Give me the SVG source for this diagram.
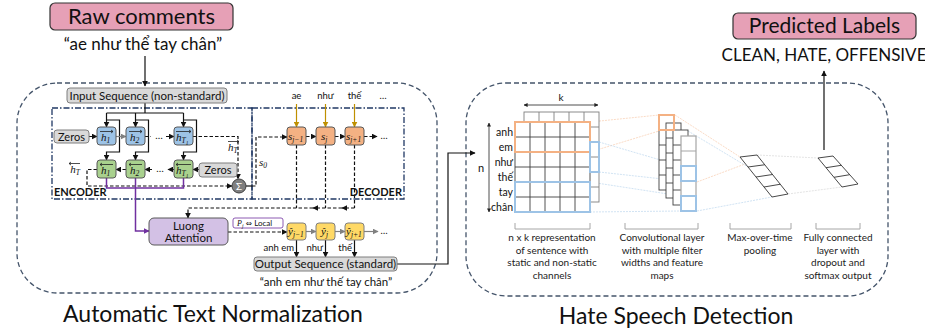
<svg xmlns="http://www.w3.org/2000/svg" width="925" height="330" viewBox="0 0 925 330">
<defs>
<style>
text{font-family:Lato,"Open Sans","Noto Sans",sans-serif;fill:#111}
.t{font-size:11px;text-anchor:middle}
.m{font-family:"Liberation Serif",serif;font-style:italic;font-size:11px}
.sb{font-size:7.5px}
.outer{fill:none;stroke:#44546a;stroke-width:1.3;stroke-dasharray:5 3}
.dd{fill:none;stroke:#203864;stroke-width:1.3;stroke-dasharray:6 2 1.5 2}
.gray{fill:#d9d9d9;stroke:#7f7f7f;stroke-width:1}
.blue{fill:#9dc3e6;stroke:#595959;stroke-width:1}
.green{fill:#a9d18e;stroke:#595959;stroke-width:1}
.orng{fill:#f4b183;stroke:#595959;stroke-width:1}
.yel{fill:#ffd966;stroke:#7f7f7f;stroke-width:1}
.pink{fill:#e6a0b6;stroke:#333;stroke-width:1.2}
.c{fill:none;stroke:#111;stroke-width:1.2}
.cd{fill:none;stroke:#111;stroke-width:1.2;stroke-dasharray:3.5 2}
.cg{fill:none;stroke:#808080;stroke-width:1.2}
.gold{fill:none;stroke:#bf9000;stroke-width:1.2}
.pur{fill:none;stroke:#7030a0;stroke-width:1.5}
.ov{fill:none;stroke:#222;stroke-width:0.8}
.grid{fill:#fff;stroke:#404040;stroke-width:0.9}
.gridb{fill:#fff;stroke:#7f7f7f;stroke-width:0.9}
.hl-o{fill:none;stroke:#f4b183;stroke-width:2}
.hl-b{fill:none;stroke:#9dc3e6;stroke-width:2}
.lo{fill:none;stroke:#f8cbad;stroke-width:0.7;stroke-dasharray:2 1}
.lb{fill:none;stroke:#bdd7ee;stroke-width:0.7;stroke-dasharray:2 1}
.lg{fill:none;stroke:#d9d9d9;stroke-width:0.7;stroke-dasharray:2 1}
.brk{fill:none;stroke:#a6a6a6;stroke-width:1}
.sm{font-size:10px;text-anchor:middle;fill:#222}
</style>
<marker id="ah" viewBox="0 0 10 10" refX="9" refY="5" markerWidth="6" markerHeight="6" markerUnits="userSpaceOnUse" orient="auto-start-reverse"><path d="M0,0 L10,5 L0,10 z" fill="#111"/></marker>
<marker id="ahg" viewBox="0 0 10 10" refX="9" refY="5" markerWidth="6" markerHeight="6" markerUnits="userSpaceOnUse" orient="auto"><path d="M0,0 L10,5 L0,10 z" fill="#808080"/></marker>
<marker id="ahgold" viewBox="0 0 10 10" refX="9" refY="5" markerWidth="6" markerHeight="6" markerUnits="userSpaceOnUse" orient="auto"><path d="M0,0 L10,5 L0,10 z" fill="#bf9000"/></marker>
<marker id="ahp" viewBox="0 0 10 10" refX="9" refY="5" markerWidth="6" markerHeight="6" markerUnits="userSpaceOnUse" orient="auto"><path d="M0,0 L10,5 L0,10 z" fill="#7030a0"/></marker>
<marker id="ahs" viewBox="0 0 10 10" refX="9" refY="5" markerWidth="4" markerHeight="4" markerUnits="userSpaceOnUse" orient="auto-start-reverse"><path d="M0,0 L10,5 L0,10 z" fill="#222"/></marker>
</defs>

<!-- outer panels -->
<rect class="outer" x="17" y="83" width="420" height="210" rx="40"/>
<rect class="outer" x="466" y="83" width="422" height="213" rx="40"/>
<rect class="dd" x="52" y="108" width="200" height="91"/>
<rect class="dd" x="252" y="108" width="152" height="91"/>
<text x="54" y="196" style="font-size:11px;font-weight:bold">ENCODER</text>
<text x="402" y="196" style="font-size:11px;font-weight:bold;text-anchor:end">DECODER</text>

<text x="213" y="322" style="font-size:23px;text-anchor:middle">Automatic Text Normalization</text>
<text x="676" y="324" style="font-size:23px;text-anchor:middle">Hate Speech Detection</text>

<g id="connectors">
<path class="c" d="M145,56 V86" marker-end="url(#ah)"/>
<!-- input to encoder -->
<path class="c" d="M145,103 V113 M106.5,113 H183.5"/>
<path class="c" d="M106.5,113 V127" marker-end="url(#ah)"/>
<path class="c" d="M135.5,113 V127" marker-end="url(#ah)"/>
<path class="c" d="M183.5,113 V127" marker-end="url(#ah)"/>
<path class="c" d="M106.5,120 H119.5 V152 H106.5 V160" marker-end="url(#ah)"/>
<path class="c" d="M135.5,120 H148.5 V152 H135.5 V160" marker-end="url(#ah)"/>
<path class="c" d="M183.5,120 H196.5 V152 H183.5 V160" marker-end="url(#ah)"/>
<!-- forward chain -->
<path class="cd" d="M89,136.5 H97" marker-end="url(#ah)"/>
<path class="cg" d="M116,136.5 H126" marker-end="url(#ahg)"/>
<path class="cd" d="M145,136.5 H151"/>
<path class="cd" d="M166,136.5 H174" marker-end="url(#ah)"/>
<path class="cd" d="M193,136.5 H238 V179" marker-end="url(#ah)"/>
<!-- backward chain -->
<path class="cd" d="M199,169.5 H193" marker-end="url(#ah)"/>
<path class="cd" d="M174,169.5 H168" marker-end="url(#ah)"/>
<path class="cd" d="M152,169.5 H145" marker-end="url(#ah)"/>
<path class="cd" d="M126,169.5 H116" marker-end="url(#ah)"/>
<path class="cd" d="M97,169.5 H87 V186 H232" marker-end="url(#ah)"/>
<!-- s0 -->
<path class="c" d="M246,186 H252"/>
<path class="cd" d="M252,186 H256 V137 H287" marker-end="url(#ah)"/>
<!-- decoder chain -->
<path class="cd" d="M306,136.5 H316" marker-end="url(#ah)"/>
<path class="cd" d="M335,136.5 H345" marker-end="url(#ah)"/>
<path class="cd" d="M364,136.5 H377" marker-end="url(#ah)"/>
<path class="gold" d="M296.5,104 V127" marker-end="url(#ahgold)"/>
<path class="gold" d="M325.5,104 V127" marker-end="url(#ahgold)"/>
<path class="gold" d="M354.5,104 V127" marker-end="url(#ahgold)"/>
<path class="cd" d="M296.5,145 V208 M325.5,145 V208 M354.5,145 V208"/>
<path class="cd" d="M354.5,208 H342" marker-end="url(#ah)"/>
<path class="cd" d="M342,208 H325.5 M325.5,208 H313" marker-end="url(#ah)"/>
<path class="cd" d="M313,208 H188 V218" marker-end="url(#ah)"/>
<!-- attention -->
<path class="pur" d="M106.5,178 V188 H183.5 V178"/>
<path class="pur" d="M135.5,178 V231 H149" marker-end="url(#ahp)"/>
<path class="cd" d="M228,232 H287" marker-end="url(#ah)"/>
<!-- outputs -->
<path class="cg" d="M306,231.5 H316" marker-end="url(#ahg)"/>
<path class="cg" d="M335,231.5 H345" marker-end="url(#ahg)"/>
<path class="cg" d="M364,231.5 H378" marker-end="url(#ahg)"/>
<path class="c" d="M296.5,240 V257" marker-end="url(#ah)"/>
<path class="c" d="M325.5,240 V257" marker-end="url(#ah)"/>
<path class="c" d="M354.5,240 V257" marker-end="url(#ah)"/>
<path class="c" d="M397,264 H448 V153 H475" marker-end="url(#ah)"/>
<!-- cnn flow -->
<path class="lo" d="M590,122 L659,115 M590,152 L659,131 M675,115 L740,157 M697,182 L745,164"/>
<path class="lb" d="M599,142 L681,166 M599,172 L681,181 M590,182 L681,196 M590,212 L681,211 M688,131 L748,167 M697,211 L772,197"/>
<path class="lg" d="M757,155 L818,158 M788,194 L842,187"/>
<path class="c" d="M824,150 V71" marker-end="url(#ah)"/>
</g>

<g id="raw-comments">
<rect class="pink" x="50" y="3" width="183" height="27" rx="5"/>
<text x="141.5" y="24" style="font-size:22px;text-anchor:middle">Raw comments</text>
<text x="143" y="50" style="font-size:17px;text-anchor:middle">“ae như thể tay chân”</text>
</g>

<g id="input-sequence">
<rect class="gray" x="67" y="88" width="160" height="15" rx="3"/>
<text class="t" x="147" y="99.5" style="font-size:11.5px">Input Sequence (non-standard)</text>
</g>

<g id="zeros-fwd"><rect class="gray" x="54" y="130" width="35" height="13" rx="3"/><text class="t" x="71.5" y="140.5">Zeros</text></g>
<g id="zeros-bwd"><rect class="gray" x="199" y="163" width="38" height="14" rx="3"/><text class="t" x="218" y="174">Zeros</text></g>

<g id="h-fwd-1"><rect class="blue" x="97" y="127" width="19" height="18" rx="3"/><text class="m" x="101" y="141">h<tspan class="sb" dy="2">1</tspan></text><path class="ov" d="M100,131.5 H113 M111,130 L113,131.5 L111,133"/></g>
<g id="h-fwd-2"><rect class="blue" x="126" y="127" width="19" height="18" rx="3"/><text class="m" x="130" y="141">h<tspan class="sb" dy="2">2</tspan></text><path class="ov" d="M129,131.5 H142 M140,130 L142,131.5 L140,133"/></g>
<g id="h-fwd-T"><rect class="blue" x="174" y="127" width="19" height="18" rx="3"/><text class="m" x="176" y="141">h<tspan class="sb" dy="2">T</tspan><tspan style="font-size:5.5px" dy="1.5">1</tspan></text><path class="ov" d="M176,131.5 H191 M189,130 L191,131.5 L189,133"/></g>
<text class="m" x="80" y="173" style="font-size:11px;text-anchor:end" >h<tspan class="sb" dy="2">T</tspan></text>
<path class="ov" d="M69,163.5 H80 M71,162 L69,163.5 L71,165"/>
<text class="m" x="228" y="151">h<tspan class="sb" dy="2">T</tspan></text>
<path class="ov" d="M228,141.5 H239 M237,140 L239,141.5 L237,143"/>
<text x="159" y="139" style="font-size:10px;text-anchor:middle">…</text>

<g id="h-bwd-1"><rect class="green" x="97" y="160" width="19" height="18" rx="3"/><text class="m" x="101" y="174">h<tspan class="sb" dy="2">1</tspan></text><path class="ov" d="M100,164.5 H113 M102,163 L100,164.5 L102,166"/></g>
<g id="h-bwd-2"><rect class="green" x="126" y="160" width="19" height="18" rx="3"/><text class="m" x="130" y="174">h<tspan class="sb" dy="2">2</tspan></text><path class="ov" d="M129,164.5 H142 M131,163 L129,164.5 L131,166"/></g>
<g id="h-bwd-T"><rect class="green" x="174" y="160" width="19" height="18" rx="3"/><text class="m" x="176" y="174">h<tspan class="sb" dy="2">T</tspan><tspan style="font-size:5.5px" dy="1.5">1</tspan></text><path class="ov" d="M176,164.5 H191 M178,163 L176,164.5 L178,166"/></g>
<text x="160" y="172" style="font-size:10px;text-anchor:middle">…</text>

<g id="sum"><circle cx="239" cy="186" r="7" fill="#7f7f7f" stroke="#404040"/><text x="239" y="189.5" style="font-size:10px;text-anchor:middle;fill:#fff">Σ</text></g>
<text class="m" x="259" y="166">s<tspan class="sb" dy="2">0</tspan></text>

<g id="s-prev"><rect class="orng" x="287" y="127" width="19" height="18" rx="3"/><text class="m" x="288" y="140">s<tspan class="sb" dy="2">j−1</tspan></text></g>
<g id="s-cur"><rect class="orng" x="316" y="127" width="19" height="18" rx="3"/><text class="m" x="321" y="140">s<tspan class="sb" dy="2">j</tspan></text></g>
<g id="s-next"><rect class="orng" x="345" y="127" width="19" height="18" rx="3"/><text class="m" x="346" y="140">s<tspan class="sb" dy="2">j+1</tspan></text></g>
<text x="296.5" y="99" style="font-size:9.5px;text-anchor:middle">ae</text>
<text x="325.5" y="99" style="font-size:9.5px;text-anchor:middle">như</text>
<text x="354.5" y="99" style="font-size:9.5px;text-anchor:middle">thế</text>
<text x="383" y="99" style="font-size:9.5px;text-anchor:middle">…</text>
<text x="384" y="139" style="font-size:9.5px;text-anchor:middle">…</text>

<g id="luong-attention">
<rect x="149" y="218" width="79" height="27" rx="5" fill="#d3c1e5" stroke="#595959"/>
<text class="t" x="188.5" y="229.5" style="font-size:11.5px">Luong</text>
<text class="t" x="188.5" y="242" style="font-size:11.5px">Attention</text>
</g>
<g id="pj-local">
<rect x="233" y="218" width="50" height="10" rx="2" fill="#fff" stroke="#7030a0" stroke-width="0.8"/>
<text x="237" y="226" style="font-size:8px"><tspan style="font-family:'Liberation Serif',serif;font-style:italic">P<tspan dy="1.5" style="font-size:5.5px">j</tspan></tspan><tspan dy="-1.5" style="font-family:'DejaVu Sans',sans-serif;font-size:7.5px"> ⇔</tspan><tspan> Local</tspan></text>
</g>

<g id="y-prev"><rect class="yel" x="287" y="223" width="19" height="17" rx="3"/><text class="m" x="288" y="235">ŷ<tspan class="sb" dy="2">j−1</tspan></text></g>
<g id="y-cur"><rect class="yel" x="316" y="223" width="19" height="17" rx="3"/><text class="m" x="321" y="235">ŷ<tspan class="sb" dy="2">j</tspan></text></g>
<g id="y-next"><rect class="yel" x="345" y="223" width="19" height="17" rx="3"/><text class="m" x="346" y="235">ŷ<tspan class="sb" dy="2">j+1</tspan></text></g>
<text x="384" y="234" style="font-size:9.5px;text-anchor:middle">…</text>
<text x="294" y="251" style="font-size:9.5px;text-anchor:end">anh em</text>
<text x="323" y="251" style="font-size:9.5px;text-anchor:end">như</text>
<text x="352" y="251" style="font-size:9.5px;text-anchor:end">thế</text>

<g id="output-sequence">
<rect class="gray" x="254" y="257" width="143" height="14" rx="3"/>
<text class="t" x="325.5" y="268" style="font-size:11.5px">Output Sequence (standard)</text>
<text class="t" x="326" y="286" style="font-size:11.5px">“anh em như thế tay chân”</text>
</g>

<g id="sentence-matrix">
<rect class="gridb" x="524" y="112" width="75" height="90"/>
<path class="gridb" d="M539,112 V122 M554,112 V122 M569,112 V122 M584,112 V122 M590,127 H599 M590,142 H599 M590,157 H599 M590,172 H599 M590,187 H599"/>
<rect class="grid" x="515" y="122" width="75" height="90"/>
<path class="grid" d="M530,122 V212 M545,122 V212 M560,122 V212 M575,122 V212 M515,137 H590 M515,152 H590 M515,167 H590 M515,182 H590 M515,197 H590"/>
<rect class="hl-o" x="515" y="122" width="75" height="30"/>
<rect class="hl-b" x="515" y="182" width="75" height="30"/>
<rect class="hl-b" x="590" y="142" width="9" height="30"/>
<path class="ov" d="M524,105 H598" marker-start="url(#ahs)" marker-end="url(#ahs)"/>
<text x="561" y="101" style="font-size:10px;text-anchor:middle">k</text>
<path class="ov" d="M489,123 V212" marker-start="url(#ahs)" marker-end="url(#ahs)"/>
<text x="481" y="172" style="font-size:11px;text-anchor:middle">n</text>
<g style="font-size:10.5px;text-anchor:end">
<text x="513" y="136">anh</text><text x="513" y="151">em</text><text x="513" y="166">như</text><text x="513" y="181">thế</text><text x="513" y="196">tay</text><text x="513" y="211">chân</text>
</g>
<path class="brk" d="M515,223 V229 H590 V223"/>
<text class="sm" x="552" y="241">n x k representation</text>
<text class="sm" x="552" y="253.5">of sentence with</text>
<text class="sm" x="552" y="266">static and non-static</text>
<text class="sm" x="552" y="278.5">channels</text>
</g>

<g id="conv-layer">
<rect class="grid" x="659" y="115" width="15" height="75"/><path class="grid" d="M659,130 H674 M659,145 H674 M659,160 H674 M659,175 H674"/>
<rect class="grid" x="666" y="123" width="15" height="75"/><path class="grid" d="M666,138 H681 M666,153 H681 M666,168 H681 M666,183 H681"/>
<rect class="grid" x="673" y="130" width="15" height="75"/><path class="grid" d="M673,145 H688 M673,160 H688 M673,175 H688 M673,190 H688"/>
<rect x="681" y="136" width="15" height="75" fill="#fff" stroke="#a6a6a6" stroke-width="1.2"/><path d="M681,151 H696 M681,166 H696 M681,181 H696 M681,196 H696" stroke="#a6a6a6" stroke-width="1.2"/>
<rect class="hl-o" x="659" y="115" width="15" height="15"/>
<rect class="hl-b" x="681" y="166" width="15" height="15"/>
<rect class="hl-b" x="681" y="196" width="15" height="15"/>
<path class="brk" d="M625,223 V229 H698 V223"/>
<text class="sm" x="662" y="241">Convolutional layer</text>
<text class="sm" x="662" y="253.5">with multiple filter</text>
<text class="sm" x="662" y="266">widths and feature</text>
<text class="sm" x="662" y="278.5">maps</text>
</g>

<g id="max-pooling">
<path d="M740,157 L757,155 L788,194 L772,197 Z M748,167 L764.75,164.75 M756,177 L772.5,174.5 M764,187 L780.25,184.25" fill="#fff" stroke="#333" stroke-width="0.9"/>
<path class="brk" d="M730,223 V229 H791 V223"/>
<text class="sm" x="760" y="241">Max-over-time</text>
<text class="sm" x="760" y="253.5">pooling</text>
</g>

<g id="fully-connected">
<path d="M818,158 L833,156 L858,184 L842,187 Z M826,167.7 L841.3,165.3 M834,177.3 L849.7,174.7" fill="#fff" stroke="#333" stroke-width="0.9"/>
<path class="brk" d="M816,223 V229 H860 V223"/>
<text class="sm" x="838" y="241">Fully connected</text>
<text class="sm" x="838" y="253.5">layer with</text>
<text class="sm" x="838" y="266">dropout and</text>
<text class="sm" x="838" y="278.5">softmax output</text>
</g>

<g id="predicted-labels">
<rect class="pink" x="733" y="13" width="183" height="26" rx="5"/>
<text x="824.5" y="33" style="font-size:21px;text-anchor:middle">Predicted Labels</text>
<text x="824" y="61" style="font-size:17px;text-anchor:middle">CLEAN, HATE, OFFENSIVE</text>
</g>
</svg>
